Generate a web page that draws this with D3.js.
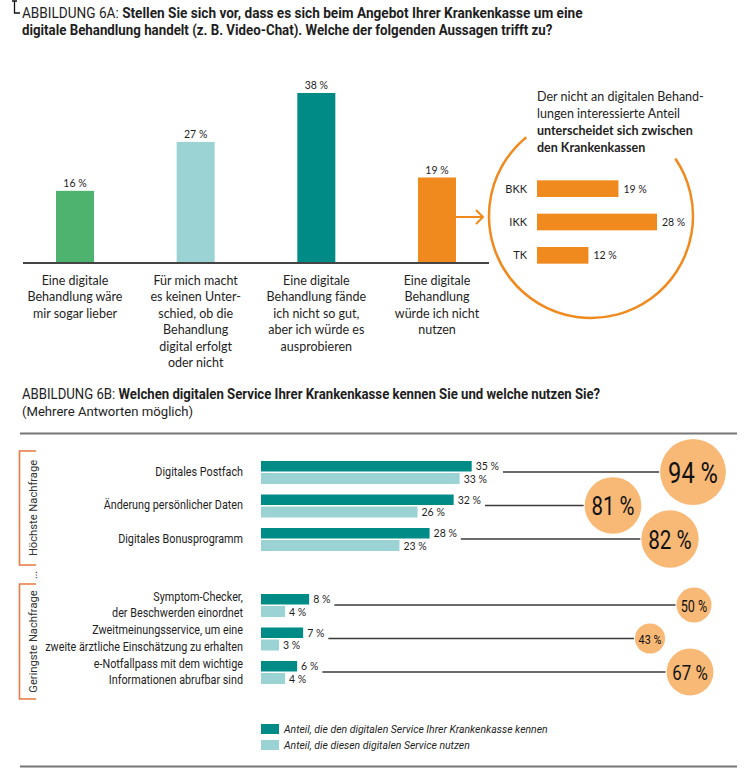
<!DOCTYPE html>
<html>
<head>
<meta charset="utf-8">
<script src="https://cdn.jsdelivr.net/npm/d3@7"></script>
<style>
  body { margin: 0; background: #fff; }
  svg { display: block; }
  text { fill: #1e1e1e; }
</style>
</head>
<body>
<div id="chart"></div>
<script>
// --- Abbildung 6A
const topCategories = [
  ["Eine digitale", "Behandlung wäre", "mir sogar lieber"],
  ["Für mich macht", "es keinen Unter-", "schied, ob die", "Behandlung", "digital erfolgt", "oder nicht"],
  ["Eine digitale", "Behandlung fände", "ich nicht so gut,", "aber ich würde es", "ausprobieren"],
  ["Eine digitale", "Behandlung", "würde ich nicht", "nutzen"]
];
const topValues = [16, 27, 38, 19];

const kassen = ["BKK", "IKK", "TK"];
const kassenValues = [19, 28, 12];

// --- Abbildung 6B
const services = [
  ["Digitales Postfach"],
  ["Änderung persönlicher Daten"],
  ["Digitales Bonusprogramm"],
  ["Symptom-Checker,", "der Beschwerden einordnet"],
  ["Zweitmeinungsservice, um eine", "zweite ärztliche Einschätzung zu erhalten"],
  ["e-Notfallpass mit dem wichtige", "Informationen abrufbar sind"]
];
const knownValues = [35, 32, 28, 8, 7, 6];
const usedValues = [33, 26, 23, 4, 3, 4];
const bubbleValues = [94, 81, 82, 50, 43, 67];
const legendLabels = [
  "Anteil, die den digitalen Service Ihrer Krankenkasse kennen",
  "Anteil, die diesen digitalen Service nutzen"
];

// layout
const W = 745, H = 779;
const bubbleX = [693, 613, 670, 694, 650, 690]; // staggered so the circles don't collide
const narrow = "Roboto, sans-serif";
const body = "Lato, 'Open Sans', sans-serif";
const green = "#4db36f", light = "#9bd3d5", teal = "#008b87", orange = "#f08a1f",
      bubbleFill = "#f8b977", bracket = "#ea7842";

const svg = d3.select("#chart").append("svg")
    .attr("width", W)
    .attr("height", H);

// the print font is a condensed one, so squeeze text horizontally round its anchor
function squeeze(sel, ax, s) {
  sel.attr("transform", `translate(${ax * (1 - s)},0) scale(${s},1)`);
}
function fitTo(sel, ax, width) {
  const s = width / sel.node().getComputedTextLength();
  squeeze(sel, ax, s);
  return s;
}

// cursor mark top left
svg.append("path")
    .attr("d", "M12,1H17M14.5,1V13H20")
    .attr("fill", "none")
    .attr("stroke", "#111")
    .attr("stroke-width", 1.3);

function title(y, lead, bold, width) {
  const t = svg.append("text")
      .attr("x", 22).attr("y", y)
      .style("font-family", narrow).style("font-size", "14px");
  t.append("tspan").style("font-weight", 400).text(lead);
  t.append("tspan").style("font-weight", "bold").text(bold);
  return fitTo(t, 22, width);
}
const sTitle = title(18.5, "ABBILDUNG 6A: ", "Stellen Sie sich vor, dass es sich beim Angebot Ihrer Krankenkasse um eine", 561);
title(35.5, "", "digitale Behandlung handelt (z. B. Video-Chat). Welche der folgenden Aussagen trifft zu?", 531);

// ---------- top bars
const xTop = d3.scalePoint().domain(d3.range(topValues.length)).range([75, 437]);
const yTop = d3.scaleLinear().domain([0, 38]).range([262, 93]);
const topColors = [green, light, teal, orange];
const barW = 38;

const tb = svg.append("g");
tb.selectAll("rect")
  .data(topValues)
  .enter().append("rect")
    .attr("x", (d, i) => xTop(i) - barW / 2)
    .attr("y", d => yTop(d))
    .attr("width", barW)
    .attr("height", d => yTop(0) - yTop(d))
    .attr("fill", (d, i) => topColors[i]);

tb.selectAll("text.val")
  .data(topValues)
  .enter().append("text")
    .attr("class", "val")
    .attr("x", (d, i) => xTop(i))
    .attr("y", d => yTop(d) - 4)
    .attr("text-anchor", "middle")
    .style("font-family", body).style("font-size", "10.5px")
    .text(d => d + " %");

svg.append("line")
    .attr("x1", 23).attr("x2", 489)
    .attr("y1", yTop(0) + 1).attr("y2", yTop(0) + 1)
    .attr("stroke", "#444").attr("stroke-width", 2);

topCategories.forEach((lines, i) => {
  const t = svg.append("text")
      .attr("text-anchor", "middle")
      .style("font-family", body).style("font-size", "12.5px");
  lines.forEach((l, j) => {
    t.append("tspan").attr("x", xTop(i)).attr("y", 284.5 + j * 16.5).text(l);
  });
});

// arrow into the circle
const ay = 217;
svg.append("path")
    .attr("d", `M${xTop(3) + barW / 2},${ay}H483M476,${ay - 7}L483,${ay}L476,${ay + 7}`)
    .attr("fill", "none")
    .attr("stroke", orange)
    .attr("stroke-width", 2);

// circle with gap at the top
const cx = 591, cy = 216, cr = 102;
const p = d3.path();
p.arc(cx, cy, cr, -34.3 * Math.PI / 180, 230.6 * Math.PI / 180, false);
svg.append("path")
    .attr("d", p.toString())
    .attr("fill", "none")
    .attr("stroke", orange)
    .attr("stroke-width", 2.5);

const noteLines = [
  ["Der nicht an digitalen Behand-", false],
  ["lungen interessierte Anteil", false],
  ["unterscheidet sich zwischen", true],
  ["den Krankenkassen", true]
];
const note = svg.append("text").style("font-family", body).style("font-size", "12.5px");
noteLines.forEach((l, j) => {
  note.append("tspan")
      .attr("x", 537).attr("y", 101 + j * 17)
      .style("font-weight", l[1] ? "bold" : "normal")
      .text(l[0]);
});

const xK = d3.scaleLinear().domain([0, 28]).range([537, 657]);
const yK = d3.scaleBand().domain(kassen).range([172, 272]).paddingInner(0.5).paddingOuter(0.25);
const kg = svg.append("g");
kg.selectAll("rect")
  .data(kassenValues)
  .enter().append("rect")
    .attr("x", xK(0))
    .attr("y", (d, i) => yK(kassen[i]))
    .attr("width", d => xK(d) - xK(0))
    .attr("height", yK.bandwidth())
    .attr("fill", orange);
kg.selectAll("text.k")
  .data(kassen)
  .enter().append("text")
    .attr("x", 527)
    .attr("y", d => yK(d) + yK.bandwidth() / 2 + 4)
    .attr("text-anchor", "end")
    .style("font-family", body).style("font-size", "11px")
    .text(d => d);
kg.selectAll("text.v")
  .data(kassenValues)
  .enter().append("text")
    .attr("x", d => xK(d) + 5)
    .attr("y", (d, i) => yK(kassen[i]) + yK.bandwidth() / 2 + 4)
    .style("font-family", body).style("font-size", "10.5px")
    .text(d => d + " %");

// ---------- Abbildung 6B
title(399.5, "ABBILDUNG 6B: ", "Welchen digitalen Service Ihrer Krankenkasse kennen Sie und welche nutzen Sie?", 579);
const sub = svg.append("text")
    .attr("x", 22).attr("y", 416)
    .style("font-family", narrow).style("font-size", "13.5px")
    .text("(Mehrere Antworten möglich)");
squeeze(sub, 22, sTitle);

svg.append("line")
    .attr("x1", 20).attr("x2", 737).attr("y1", 433.5).attr("y2", 433.5)
    .attr("stroke", "#777").attr("stroke-width", 2);
svg.append("line")
    .attr("x1", 20).attr("x2", 737).attr("y1", 766.5).attr("y2", 766.5)
    .attr("stroke", "#777").attr("stroke-width", 2);

const xB = d3.scaleLinear().domain([0, 35]).range([261, 471.7]);
const rowY = i => 472 + i * 33.5 + (i >= 3 ? 32.5 : 0);
const rB = d3.scaleLinear().domain([0, 100]).range([0, 35]);

// brackets
[[451, 565, "Höchste Nachfrage"], [584, 699, "Geringste Nachfrage"]].forEach(b => {
  svg.append("path")
      .attr("d", `M36,${b[0]}H19.5V${b[1]}H36`)
      .attr("fill", "none")
      .attr("stroke", bracket)
      .attr("stroke-width", 1.6);
  svg.append("text")
      .attr("transform", `translate(33,${(b[0] + b[1]) / 2})rotate(-90)scale(${sTitle},1)`)
      .attr("text-anchor", "middle")
      .attr("dominant-baseline", "central")
      .style("font-family", narrow).style("font-size", "11.5px")
      .style("fill", "#333")
      .text(b[2]);
});
svg.append("text")
    .attr("transform", "translate(33,575)rotate(-90)")
    .attr("text-anchor", "middle")
    .attr("dominant-baseline", "central")
    .style("font-family", body).style("font-size", "10px")
    .text("…");

const rows = svg.append("g");
const labelTexts = [];
services.forEach((lines, i) => {
  const c = rowY(i);
  lines.forEach((l, j) => {
    labelTexts.push(rows.append("text")
        .attr("x", 243)
        .attr("y", c + 4 + (lines.length === 1 ? 0 : (j === 0 ? -8 : 8)))
        .attr("text-anchor", "end")
        .style("font-family", narrow).style("font-size", "12px")
        .text(l));
  });
});
// longest label ("zweite ärztliche ...") runs from x 45 to 243
const longest = labelTexts.reduce((a, b) =>
  a.node().getComputedTextLength() > b.node().getComputedTextLength() ? a : b);
const sLabel = 198 / longest.node().getComputedTextLength();
labelTexts.forEach(t => squeeze(t, 243, sLabel));

rows.selectAll("rect.known")
  .data(knownValues)
  .enter().append("rect")
    .attr("x", xB(0))
    .attr("y", (d, i) => rowY(i) - 11)
    .attr("width", d => xB(d) - xB(0))
    .attr("height", 10.5)
    .attr("fill", teal);
rows.selectAll("rect.used")
  .data(usedValues)
  .enter().append("rect")
    .attr("x", xB(0))
    .attr("y", (d, i) => rowY(i) + 1)
    .attr("width", d => xB(d) - xB(0))
    .attr("height", 11)
    .attr("fill", light);

const knownLabels = rows.selectAll("text.kv")
  .data(knownValues)
  .enter().append("text")
    .attr("x", d => xB(d) + 4)
    .attr("y", (d, i) => rowY(i) - 2)
    .style("font-family", body).style("font-size", "10.5px")
    .text(d => d + " %");
rows.selectAll("text.uv")
  .data(usedValues)
  .enter().append("text")
    .attr("x", d => xB(d) + 4)
    .attr("y", (d, i) => rowY(i) + 10.5)
    .style("font-family", body).style("font-size", "10.5px")
    .text(d => d + " %");

// connector lines + bubbles
knownLabels.each(function (d, i) {
  const start = xB(d) + 4 + this.getComputedTextLength() + 4;
  const r = rB(bubbleValues[i]);
  rows.append("line")
      .attr("x1", start).attr("x2", bubbleX[i] - r - 1)
      .attr("y1", rowY(i)).attr("y2", rowY(i))
      .attr("stroke", "#3a3a3a").attr("stroke-width", 1.5);
});

rows.selectAll("circle")
  .data(bubbleValues)
  .enter().append("circle")
    .attr("cx", (d, i) => bubbleX[i])
    .attr("cy", (d, i) => rowY(i))
    .attr("r", d => rB(d))
    .attr("fill", bubbleFill);
rows.selectAll("text.bv")
  .data(bubbleValues)
  .enter().append("text")
    .attr("x", (d, i) => bubbleX[i])
    .attr("y", (d, i) => rowY(i) + 1)
    .attr("text-anchor", "middle")
    .attr("dominant-baseline", "central")
    .style("font-family", narrow).style("font-weight", 400)
    .style("font-size", d => (rB(d) * 0.9) + "px")
    .style("fill", "#111")
    .text(d => d + " %")
    .each(function (d, i) { squeeze(d3.select(this), bubbleX[i], 0.8); });

// legend
const lg = svg.append("g");
legendLabels.forEach((l, i) => {
  lg.append("rect")
      .attr("x", 261).attr("y", 724 + i * 16)
      .attr("width", 18).attr("height", 10)
      .attr("fill", i === 0 ? teal : light);
  lg.append("text")
      .attr("x", 284).attr("y", 733 + i * 16)
      .style("font-family", narrow).style("font-size", "11px")
      .style("font-style", "italic")
      .text(l);
});
// first legend line ends near x 548
const sLegend = 264 / lg.select("text").node().getComputedTextLength();
lg.selectAll("text").each(function () { squeeze(d3.select(this), 284, sLegend); });
</script>
</body>
</html>
